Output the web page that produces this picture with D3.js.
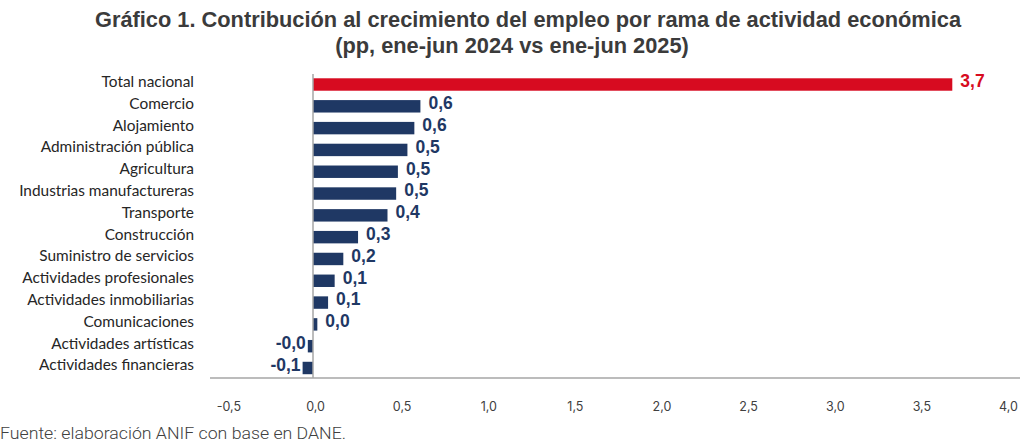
<!DOCTYPE html>
<html><head><meta charset="utf-8">
<script src="https://cdn.jsdelivr.net/npm/d3@7"></script>
<style>body{margin:0;background:#fff}svg{display:block}</style>
</head><body><svg id="c" width="1024" height="446"></svg>
<script>
const categories = ["Total nacional","Comercio","Alojamiento","Administración pública","Agricultura","Industrias manufactureras","Transporte","Construcción","Suministro de servicios","Actividades profesionales","Actividades inmobiliarias","Comunicaciones","Actividades artísticas","Actividades financieras"];
const values = [3.69,0.62,0.585,0.545,0.49,0.48,0.43,0.26,0.175,0.125,0.087,0.025,-0.03,-0.06];
const ticks = [-0.5,0,0.5,1,1.5,2,2.5,3,3.5,4];
const titleLines = ["Gráfico 1. Contribución al crecimiento del empleo por rama de actividad económica","(pp, ene-jun 2024 vs ene-jun 2025)"];
const source = "Fuente: elaboración ANIF con base en DANE.";

const svg = d3.select("#c");
const x = d3.scaleLinear().domain([0,4]).range([313,1006]);
const y = d3.scaleBand().domain(categories).range([73.6,378.9]).paddingInner(0.43).paddingOuter(0.215);
const fmt = v => (v<0?"-":"") + Math.abs(v).toFixed(1).replace(".",",");

const titleCenters = [528,512];
svg.selectAll(".t").data(titleLines).join("text")
  .attr("x",(d,i)=>titleCenters[i]).attr("y",(d,i)=>27+i*26).attr("text-anchor","middle")
  .attr("font-family","'Liberation Sans', Arial, sans-serif").attr("font-weight","bold")
  .attr("font-size",21.8).attr("fill","#3b3b3b").text(d=>d);

// axis line
svg.append("line").attr("x1",210).attr("x2",1020).attr("y1",378).attr("y2",378)
  .attr("stroke","#a6a6a6").attr("stroke-width",1.5);

svg.selectAll(".bar").data(values).join("rect")
  .attr("x",d=>x(Math.min(0,d))).attr("width",d=>Math.abs(x(d)-x(0)))
  .attr("y",(d,i)=>y(categories[i])).attr("height",y.bandwidth())
  .attr("fill",(d,i)=>i===0?"#d70b20":"#1f3864");

svg.append("line").attr("x1",x(0)).attr("x2",x(0)).attr("y1",74).attr("y2",378)
  .attr("stroke","#a6a6a6").attr("stroke-width",1.5);

svg.selectAll(".cat").data(categories).join("text")
  .attr("x",194).attr("y",d=>y(d)+y.bandwidth()/2-3).attr("dy","0.35em")
  .attr("text-anchor","end").attr("font-family","Lato, sans-serif").attr("font-size",15.4)
  .attr("fill","#262626").text(d=>d);

svg.selectAll(".val").data(values).join("text")
  .attr("x",d=>d>=0?x(d)+8:x(d)-2).attr("y",(d,i)=>y(categories[i])+y.bandwidth()/2-3.5).attr("dy","0.36em")
  .attr("text-anchor",d=>d>=0?"start":"end")
  .attr("font-family","'Liberation Sans', Arial, sans-serif").attr("font-weight","bold").attr("font-size",17.5)
  .attr("fill",(d,i)=>i===0?"#d70b20":"#1f3864").text(d=>fmt(d));

const axis = d3.axisBottom(x).tickValues(ticks).tickSize(0).tickPadding(0).tickFormat(d=>d.toFixed(1).replace(".",","));
const g = svg.append("g").attr("transform","translate(2,402)").call(axis);
g.select(".domain").remove();
g.selectAll("text").attr("font-family","Inter, Roboto, sans-serif").attr("font-size",12.5).attr("fill","#404040");

svg.append("text").attr("x",0).attr("y",438.5).attr("font-family","Roboto, sans-serif").attr("font-weight",300)
  .attr("font-size",16.5).attr("fill","#404040").attr("textLength",346).attr("lengthAdjust","spacingAndGlyphs").text(source);
</script></body></html>
